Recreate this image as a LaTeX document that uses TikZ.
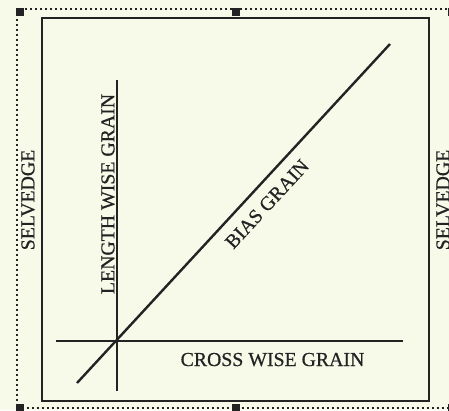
\documentclass[tikz,border=0pt]{standalone}
\usepackage{fontspec}
\setmainfont{Liberation Serif}
\newfontfamily\lblfont{Liberation Serif}[FakeBold=0.6]
\definecolor{bgcream}{RGB}{248,250,233}
\definecolor{inkdark}{RGB}{35,35,35}
\begin{document}
\begin{tikzpicture}[x=1pt,y=-1pt,
  grainline/.style={draw=inkdark,line width=2.4pt},
  framebox/.style={draw=inkdark,line width=2.8pt},
  selframe/.style={draw=inkdark,line width=2pt,dash pattern=on 2pt off 3pt},
  handle/.style={fill=inkdark,draw=none},
  lbl/.style={font=\lblfont\fontsize{19.8}{22}\selectfont,text=inkdark,inner sep=0pt}]
\fill[bgcream] (0,0) rectangle (449,410);
\useasboundingbox (0,0) rectangle (449,410);
% selection frame
\draw[selframe] (16.5,8.5) rectangle (452,408.3);
\foreach \hx in {16,232,448}{
  \fill[handle] (\hx,8) rectangle ++(8,7.5);
  \fill[handle] (\hx,403.5) rectangle ++(8,7);
}
% main rectangle
\draw[framebox] (42,18) rectangle (429,401);
% grain lines
\coordinate (vtop) at (117,80);
\coordinate (vbot) at (117,391);
\coordinate (hl) at (56,341);
\coordinate (hr) at (403,341);
\coordinate (dlo) at (77,383);
\coordinate (dhi) at (390,44);
\draw[grainline] (vtop) -- (vbot);
\draw[grainline] (hl) -- (hr);
\draw[grainline] (dlo) -- (dhi);
% labels
\node[lbl,rotate=90] (selL) at (28,200) {SELVEDGE};
\node[lbl,rotate=90] (selR) at (443,200) {SELVEDGE};
\node[lbl,rotate=90] (lw) at (108,194) {LENGTH WISE GRAIN};
\node[lbl,anchor=base] (cw) at (272.5,366) {CROSS WISE GRAIN};
\node[lbl,rotate=47.3] (bias) at (267,204) {BIAS GRAIN};
\end{tikzpicture}
\end{document}
